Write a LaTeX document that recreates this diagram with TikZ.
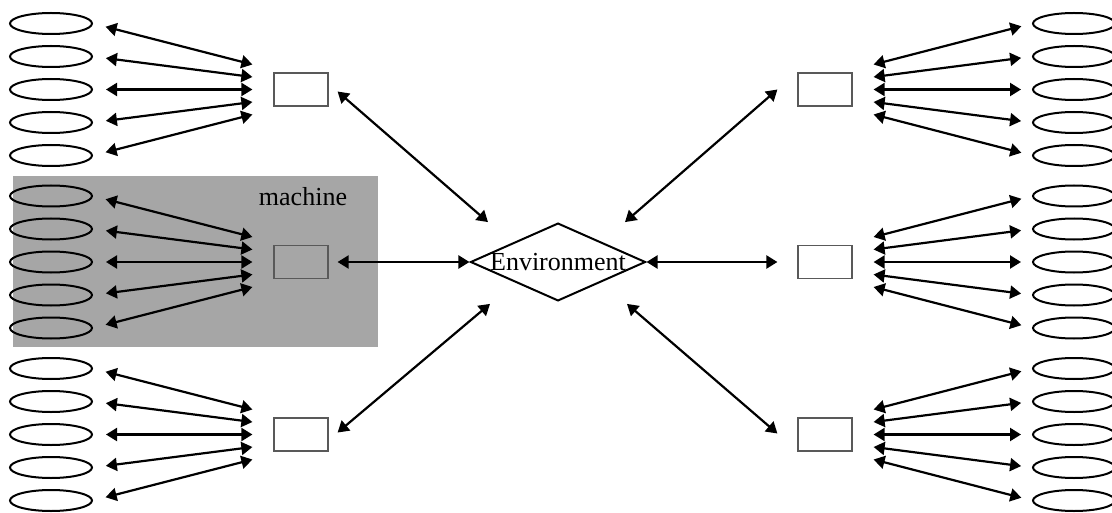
\documentclass[tikz,border=0pt]{standalone}
\usepackage{fontspec}
\setmainfont{Liberation Serif}
\usetikzlibrary{shapes.geometric,arrows.meta,calc}

\tikzset{
  agent/.style={ellipse, draw, line width=1pt, minimum width=41pt, minimum height=10.5pt, inner sep=0pt},
  unit/.style={rectangle, draw=black!65, line width=0.6pt, minimum width=27pt, minimum height=16.5pt, inner sep=0pt},
  world/.style={diamond, draw, line width=1pt, aspect=2.25, inner sep=0pt, minimum width=86.5pt, minimum height=38.5pt},
  link/.style={line width=1.1pt, {Triangle[length=5.5pt,width=6.5pt]}-{Triangle[length=5.5pt,width=6.5pt]}},
  label/.style={font=\fontsize{13}{15}\selectfont}
}

\begin{document}
\begin{tikzpicture}[x=0.5pt, y=-0.5pt]
        \useasboundingbox (0,0) rectangle (1112,513);
        % Box
        \fill[black!35] (13,176) rectangle (378,347);
        \node[label] (mlabel) at (303,197) {machine};
        % Environment
        \node[world, label] (env) at (558,262) {Environment};
        % Machines
        \node[unit] (lt) at (301,89.5) {};
        \node[unit] (lm) at (301,262) {};
        \node[unit] (lb) at (301,434.5) {};
        \node[unit] (rt) at (825,89.5) {};
        \node[unit] (rm) at (825,262) {};
        \node[unit] (rb) at (825,434.5) {};
        % Agents, left
        \foreach \u in {lt,lm,lb} {
          \foreach \i/\dy/\hy in {1/-66/-25, 2/-33/-12.5, 3/0/0, 4/33/12.5, 5/66/25} {
            \node[agent] (\u e\i) at ($(\u)+(-250,\dy)$) {};
            \coordinate (\u h\i) at ($(\u.west)+(-21,\hy)$);
            \draw[link, shorten <=6.5pt] (\u e\i.east) -- (\u h\i);
          }
        }
        % Agents, right
        \foreach \u in {rt,rm,rb} {
          \foreach \i/\dy/\hy in {1/-66/-25, 2/-33/-12.5, 3/0/0, 4/33/12.5, 5/66/25} {
            \node[agent] (\u e\i) at ($(\u)+(249,\dy)$) {};
            \coordinate (\u h\i) at ($(\u.east)+(21,\hy)$);
            \draw[link, shorten >=5.5pt] (\u h\i) -- (\u e\i.west);
          }
        }
        % Links to environment
        \draw[link] ($(lt.east)+(9,2)$) -- ($(env.north)+(-70,0)$);
        \draw[link, shorten <=4.5pt] (lm.east) -- (env.west);
        \draw[link] ($(lb.east)+(9,-2)$) -- ($(env.south)+(-68,2)$);
        \draw[link] ($(env.north)+(67,0)$) -- ($(rt.west)+(-20,0)$);
        \draw[link, shorten >=10pt] (env.east) -- (rm.west);
        \draw[link] ($(env.south)+(69,2)$) -- ($(rb.west)+(-20,-1)$);
\end{tikzpicture}
\end{document}
